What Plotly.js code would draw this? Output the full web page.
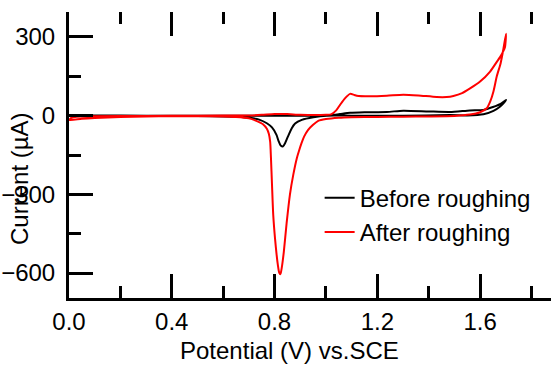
<!DOCTYPE html>
<html>
<head>
<meta charset="utf-8">
<script src="https://cdn.plot.ly/plotly-3.0.1.min.js"></script>
<style>html,body{margin:0;padding:0;background:#fff;}#chart{width:551px;height:366px;}</style>
</head>
<body>
<div id="chart"></div>
<script>
// Before roughing: forward scan then reverse scan
const beforeV = [0.000,0.100,0.300,0.500,0.700,0.900,1.000,1.030,1.055,1.094,1.150,1.237,1.301,1.400,1.483,1.560,1.613,1.650,1.680,1.701,
                 1.690,1.677,1.652,1.613,1.550,1.483,1.300,1.100,1.003,0.951,0.906,0.880,0.867,0.852,0.841,0.833,0.825,0.815,0.808,0.790,0.770,0.740,0.717,0.653,0.500,0.200,0.000];
const beforeI = [2,1,0,0,0,0,1,3,6,11,13,14,19,16,14,20,22,33,45,60,
                 46,34,18,5,1,2,0,0,0,-6,-16,-30,-48,-80,-105,-117,-115,-95,-74,-45,-29,-15,-10,-4,-1,0,0];

// After roughing: forward scan then reverse scan
const afterV = [0.000,0.010,0.030,0.100,0.300,0.500,0.700,0.750,0.800,0.850,0.900,1.000,1.020,1.040,1.055,1.074,1.094,1.110,1.120,1.170,1.237,1.301,1.360,1.431,1.470,1.496,1.530,1.561,1.600,1.639,1.665,1.677,1.690,1.697,1.701,
                1.690,1.680,1.665,1.652,1.640,1.626,1.600,1.560,1.500,1.400,1.300,1.200,1.100,1.050,1.000,0.970,0.950,0.930,0.915,0.905,0.895,0.886,0.873,0.860,0.847,0.836,0.828,0.823,0.818,0.813,0.808,0.802,0.795,0.790,0.786,0.783,0.778,0.770,0.755,0.740,0.720,0.700,0.650,0.600,0.500,0.400,0.300,0.200,0.100,0.050,0.000];
const afterI = [-17,-8,-4,-2,-1,0,1,3,6,6,3,3,5,20,41,66,83,79,76,74,76,80,77,71,71,75,86,104,130,168,205,222,245,262,312,
                250,200,150,92,55,28,13,4,-1,-3,-4,-5,-6,-8,-13,-20,-35,-55,-80,-105,-135,-165,-225,-300,-410,-520,-580,-604,-598,-570,-530,-470,-380,-260,-160,-100,-70,-50,-33,-25,-16,-10,-5,-3,-2,-2,-3,-5,-9,-12,-17];

const seriesNames = ['Before roughing', 'After roughing'];
const xTickVals = [0.0, 0.4, 0.8, 1.2, 1.6];
const xMinorVals = [0.2, 0.6, 1.0, 1.4, 1.8];
const yTickVals = [-600, -300, 0, 300];
const yMinorVals = [-450, -150, 150];

const FONT = 'Arial, "Liberation Sans", sans-serif';
const X_RANGE = [0, 1.876];

const traces = [
  {x: beforeV, y: beforeI, name: seriesNames[0], type: 'scatter', mode: 'lines', xaxis: 'x', yaxis: 'y',
   line: {color: '#000000', width: 2, shape: 'spline', smoothing: 0.6}},
  {x: afterV, y: afterI, name: seriesNames[1], type: 'scatter', mode: 'lines', xaxis: 'x2', yaxis: 'y',
   line: {color: '#ff0000', width: 2, shape: 'spline', smoothing: 0.6}}
];

const tickStyle = {ticks: 'inside', ticklen: 24, tickwidth: 3, tickcolor: '#000'};
const xMinor = {tickmode: 'array', tickvals: xMinorVals, ticks: 'inside', ticklen: 12, tickwidth: 3, tickcolor: '#000', showgrid: false};
const yMinor = {tickmode: 'array', tickvals: yMinorVals, ticks: 'inside', ticklen: 12, tickwidth: 3, tickcolor: '#000', showgrid: false};

const layout = {
  width: 551, height: 366,
  margin: {l: 69, r: 0, t: 12, b: 68, pad: 0},
  paper_bgcolor: '#ffffff', plot_bgcolor: '#ffffff',
  font: {family: FONT, size: 24, color: '#000000'},
  showlegend: true,
  legend: {x: 0.52, y: 0.4275, xanchor: 'left', yanchor: 'top', bgcolor: 'rgba(0,0,0,0)',
           font: {family: FONT, size: 24, color: '#000'}, borderwidth: 0},
  xaxis: Object.assign({range: X_RANGE, tickmode: 'array', tickvals: xTickVals, ticktext: xTickVals.map(v => v.toFixed(1)),
          showline: true, linewidth: 3, linecolor: '#000', mirror: false, showgrid: false, zeroline: false,
          minor: xMinor, tickfont: {family: FONT, size: 24}, ticklabelstandoff: 0}, tickStyle),
  xaxis2: Object.assign({range: X_RANGE, overlaying: 'x', side: 'top', anchor: 'y', tickmode: 'array', tickvals: xTickVals,
          showticklabels: false, showline: false, showgrid: false, zeroline: false,
          minor: xMinor}, tickStyle),
  yaxis: Object.assign({range: [-695, 395], tickmode: 'array', tickvals: yTickVals,
          showline: true, linewidth: 3, linecolor: '#000', showgrid: false, zeroline: false,
          minor: yMinor, tickfont: {family: FONT, size: 24}, ticklabelstandoff: 6}, tickStyle),
  annotations: [
    {text: 'Potential (V) vs.SCE', xref: 'paper', yref: 'paper', x: 0.4585, y: -0.185,
     xanchor: 'center', yanchor: 'middle', showarrow: false, font: {family: FONT, size: 24, color: '#000'}},
    {text: 'Current (µA)', xref: 'paper', yref: 'paper', x: -0.1017, y: 0.4196, textangle: -90,
     xanchor: 'center', yanchor: 'middle', showarrow: false, font: {family: FONT, size: 24, color: '#000'}}
  ]
};

Plotly.newPlot('chart', traces, layout, {staticPlot: true, displayModeBar: false});
</script>
</body>
</html>
